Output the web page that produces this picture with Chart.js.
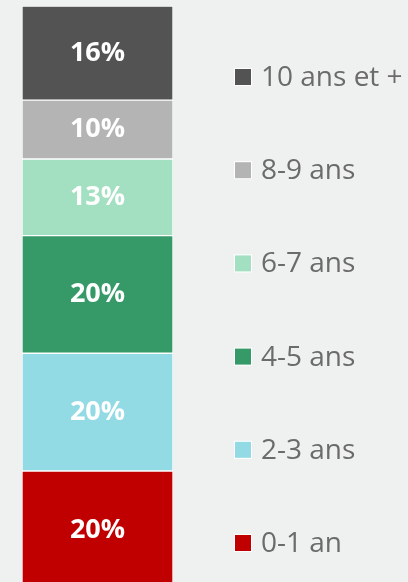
<!DOCTYPE html>
<html>
<head>
<meta charset="utf-8">
<script src="https://cdn.jsdelivr.net/npm/chart.js@4"></script>
<style>
  html, body { margin: 0; padding: 0; background: #eff1f1; }
  #wrap { width: 408px; height: 582px; position: relative; }
</style>
</head>
<body>
<div id="wrap"><canvas id="myChart"></canvas></div>
<script>
// age groups, bottom of the bar first
var ageGroups = ['0-1 an', '2-3 ans', '4-5 ans', '6-7 ans', '8-9 ans', '10 ans et +'];
var shares = [20, 20, 20, 13, 10, 16];
var groupColors = ['#c00000', '#92dae4', '#359a68', '#a3dfc1', '#b4b4b4', '#535353'];
var categories = [''];

// bar labels (percent inside each segment)
var barLabels = {
    id: 'barLabels',
    afterDatasetsDraw: function(chart) {
        var ctx = chart.ctx;
        ctx.save();
        ctx.font = 'bold 27px "Open Sans"';
        ctx.fillStyle = '#ffffff';
        ctx.textAlign = 'center';
        ctx.textBaseline = 'middle';
        chart.data.datasets.forEach(function(ds, i) {
            var bar = chart.getDatasetMeta(i).data[0];
            ctx.fillText(ds.data[0] + '%', bar.x, (bar.y + bar.base) / 2);
        });
        ctx.restore();
    }
};

// legend on the right, top item = last dataset
var sideLegend = {
    id: 'sideLegend',
    afterDraw: function(chart) {
        var ctx = chart.ctx;
        var top = 77, step = 93.2, boxX = 235, box = 16, textX = 261;
        var ds = chart.data.datasets;
        ctx.save();
        ctx.font = '28px "Open Sans"';
        ctx.textBaseline = 'middle';
        ctx.textAlign = 'left';
        for (var k = 0; k < ds.length; k++) {
            var d = ds[ds.length - 1 - k];
            var cy = top + k * step;
            ctx.fillStyle = '#ffffff';
            ctx.fillRect(boxX - 1, cy - box / 2 - 1, box + 2, box + 2);
            ctx.fillStyle = d.backgroundColor;
            ctx.fillRect(boxX, cy - box / 2, box, box);
            ctx.fillStyle = '#6b6b6b';
            ctx.fillText(d.label, textX, cy + 1);
        }
        ctx.restore();
    }
};

var datasets = ageGroups.map(function(g, i) {
    return {
        label: g,
        data: [shares[i]],
        backgroundColor: groupColors[i],
        borderColor: '#ffffff',
        borderWidth: 1,
        borderSkipped: false,
        barPercentage: 1,
        categoryPercentage: 1
    };
});

var canvas = document.getElementById('myChart').getContext('2d');
var myChart = new Chart(canvas, {
    type: 'bar',
    data: {
        labels: categories,
        datasets: datasets
    },
    options: {
        responsive: true,
        maintainAspectRatio: false,
        animation: false,
        layout: { padding: { top: 6, left: 22, right: 235, bottom: 0 } },
        scales: {
            x: { stacked: true, display: false },
            y: { stacked: true, display: false, min: 1.14, max: 99 }
        },
        plugins: {
            legend: { display: false },
            tooltip: { enabled: false }
        }
    },
    plugins: [barLabels, sideLegend]
});
</script>
</body>
</html>
